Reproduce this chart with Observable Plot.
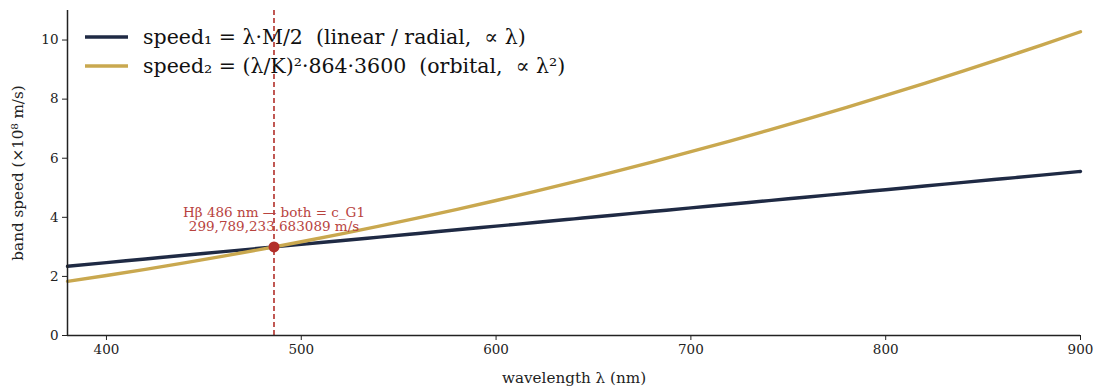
<!DOCTYPE html>
<html><head><meta charset="utf-8">
<script src="https://cdn.jsdelivr.net/npm/d3@7"></script>
<script src="https://cdn.jsdelivr.net/npm/@observablehq/plot@0.6"></script>
<style>
body{margin:0;background:#fff;}
#chart svg{font-family:"DejaVu Serif",serif;}
</style>
</head><body><div id="chart"></div>
<script>
const wavelengths = [380,400,420,440,460,480,500,520,540,560,580,600,620,640,660,680,700,720,740,760,780,800,820,840,860,880,900];
const speed1 = [2.344,2.467,2.591,2.714,2.838,2.961,3.084,3.208,3.331,3.454,3.578,3.701,3.825,3.948,4.071,4.195,4.318,4.441,4.565,4.688,4.812,4.935,5.058,5.182,5.305,5.428,5.552];
const speed2 = [1.833,2.031,2.239,2.457,2.686,2.924,3.173,3.432,3.701,3.981,4.270,4.569,4.879,5.199,5.529,5.869,6.220,6.580,6.951,7.331,7.722,8.124,8.535,8.956,9.388,9.829,10.281];
const seriesLabels = ["speed\u2081 = \u03bb\u00b7M/2  (linear / radial,  \u221d \u03bb)", "speed\u2082 = (\u03bb/K)\u00b2\u00b7864\u00b73600  (orbital,  \u221d \u03bb\u00b2)"];
const seriesColors = ["#1f2a44", "#c9a84f"];
const xTicks = [400,500,600,700,800,900];
const yTicks = [0,2,4,6,8,10];
const hbeta = {x: 486, y: 2.998};
const annot1 = "H\u03b2 486 nm \u2014 both = c_G1";
const annot2 = "299,789,233.683089 m/s";

const t1 = wavelengths.map((w,i)=>({w, v: speed1[i]}));
const t2 = wavelengths.map((w,i)=>({w, v: speed2[i]}));
const red = "#b22f2a";

const plot = Plot.plot({
  width: 1095, height: 387,
  marginTop: 10, marginRight: 15, marginBottom: 52, marginLeft: 67,
  style: {fontFamily: "'DejaVu Serif', serif", fontSize: "13.5px", color: "#222", background: "#fff"},
  x: {domain: [380, 900]},
  y: {domain: [0, 11]},
  marks: [
    Plot.ruleX([hbeta.x], {y1: 0, y2: 11, stroke: red, strokeWidth: 1.6, strokeDasharray: "5,3"}),
    Plot.line(t1, {x: "w", y: "v", stroke: seriesColors[0], strokeWidth: 3.4, curve: "monotone-x"}),
    Plot.line(t2, {x: "w", y: "v", stroke: seriesColors[1], strokeWidth: 3.4, curve: "monotone-x"}),
    Plot.dot([hbeta], {x: "x", y: "y", r: 5.5, fill: red, stroke: "none"}),
    Plot.text([hbeta], {x: "x", y: "y", text: () => annot1, dy: -34, fill: "#b8433e", fontSize: 13.5}),
    Plot.text([hbeta], {x: "x", y: "y", text: () => annot2, dy: -20, fill: "#b8433e", fontSize: 13.5}),
    Plot.axisX({ticks: xTicks, tickSize: 5, tickPadding: 4, fontSize: 13.5, label: "wavelength \u03bb (nm)", labelAnchor: "center", labelOffset: 47, labelArrow: "none"}),
    Plot.axisY({ticks: yTicks, tickSize: 5, tickPadding: 4, fontSize: 13.5, label: "band speed (\u00d710\u2078 m/s)", labelAnchor: "center", labelOffset: 55, labelArrow: "none"}),
    Plot.ruleX([380], {y1: 0, y2: 11, stroke: "#222", strokeWidth: 1.5}),
    Plot.ruleY([0], {stroke: "#222", strokeWidth: 1.5})
  ]
});
document.getElementById("chart").appendChild(plot);

const svg = d3.select(plot);
svg.selectAll("[aria-label='x-axis label'] text, [aria-label='y-axis label'] text").style("font-size", "15.2px");
const lg = svg.append("g").attr("text-anchor", "start");
seriesLabels.forEach((lab, i) => {
  const y = 37 + i * 29;
  lg.append("line").attr("x1", 85).attr("x2", 128).attr("y1", y).attr("y2", y)
    .attr("stroke", seriesColors[i]).attr("stroke-width", 3.5);
  lg.append("text").attr("x", 143).attr("y", y).attr("dy", "0.35em")
    .attr("text-anchor", "start").style("white-space", "pre")
    .attr("font-size", 20.5).attr("fill", "#111").text(lab);
});
</script>
</body></html>
